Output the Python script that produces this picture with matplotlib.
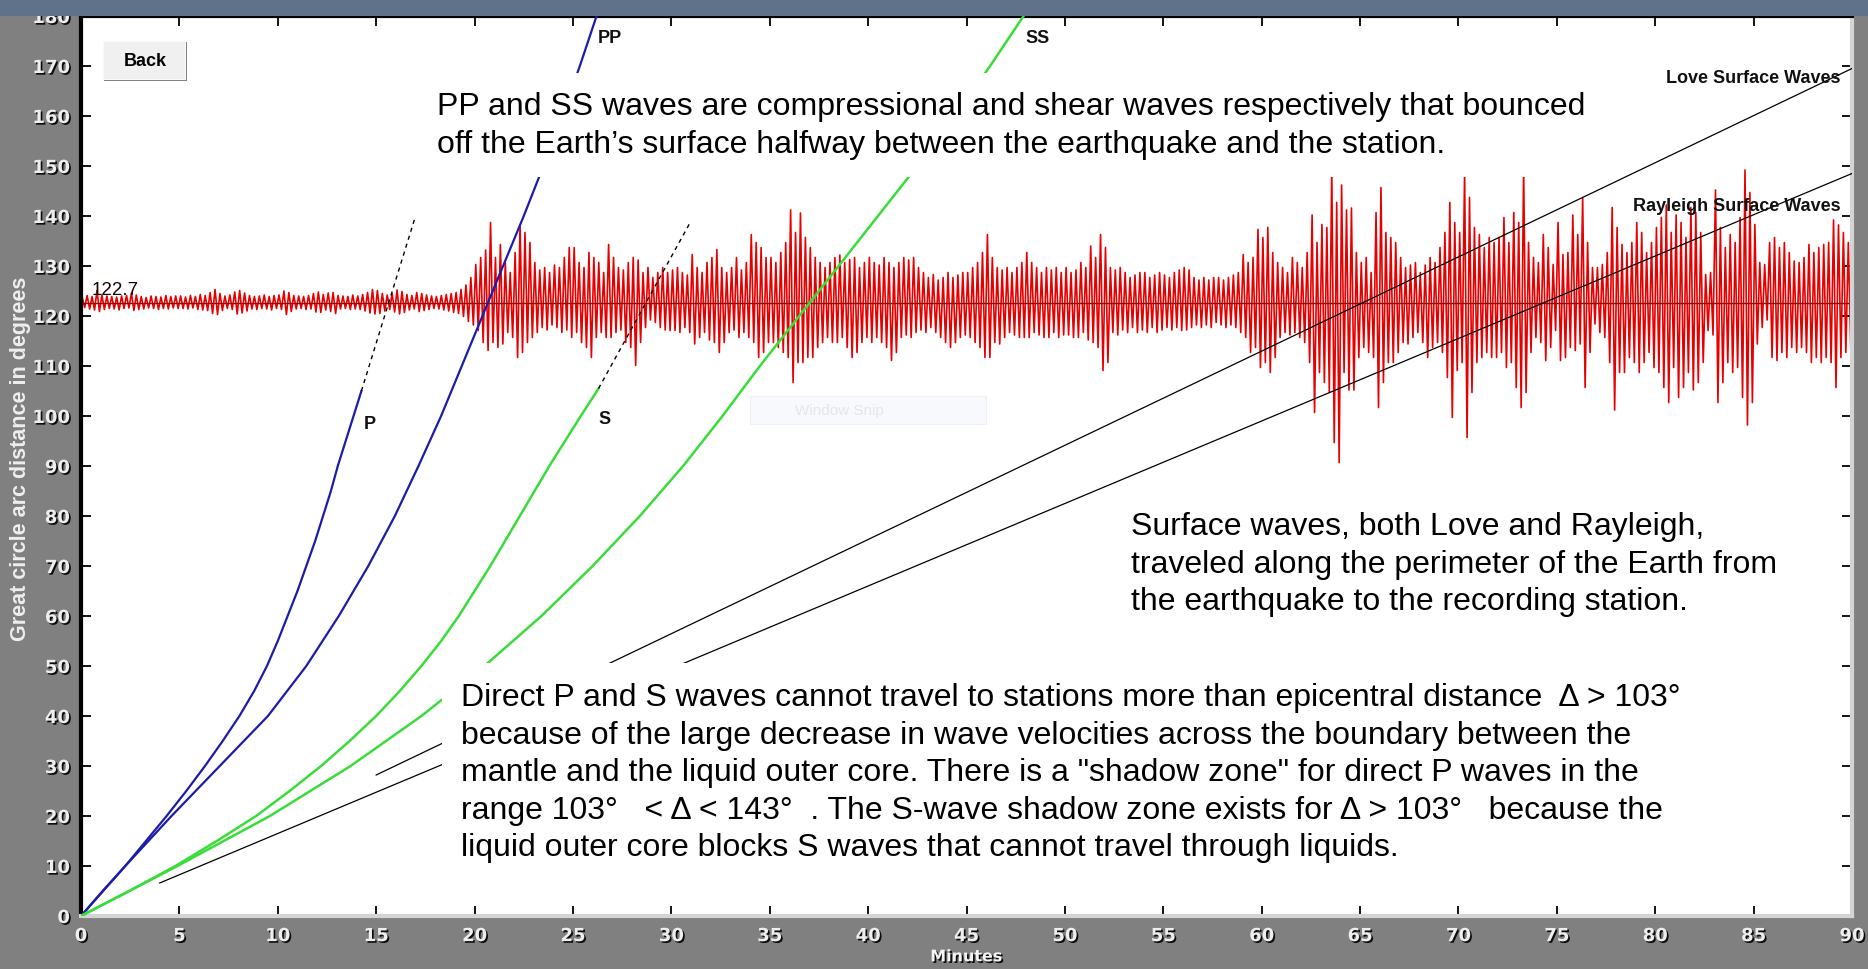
import numpy as np
import matplotlib
matplotlib.use("Agg")
import matplotlib.pyplot as plt
import matplotlib.patheffects as pe
from matplotlib.patches import Rectangle

# ---------------- data ----------------
station_deg = 122.7

p_deg = [0, 5, 10, 15, 20, 25, 30, 35, 40, 45, 50, 55, 60, 65, 70, 75, 80, 85, 90, 95, 100, 105]
p_min = [0, 1.1, 2.25, 3.3, 4.35, 5.35, 6.3, 7.2, 8.05, 8.8, 9.45, 10.0, 10.5, 11.0, 11.45,
         11.9, 12.3, 12.7, 13.05, 13.45, 13.85, 14.25]
p_ext_min = [14.25, 17.0]
p_ext_deg = [105, 140]

pp_deg = [0, 10, 20, 30, 40, 50, 60, 70, 80, 90, 100, 110, 120, 130, 140, 150, 160, 170, 180]
pp_min = [0, 2.25, 4.6, 7.05, 9.5, 11.45, 13.1, 14.6, 15.95, 17.15, 18.3, 19.35, 20.4,
          21.45, 22.5, 23.5, 24.45, 25.35, 26.2]

s_deg = [0, 5, 10, 15, 20, 25, 30, 35, 40, 45, 50, 55, 60, 65, 70, 75, 80, 85, 90, 95,
         100, 105.5]
s_min = [0, 2.45, 4.8, 6.9, 8.9, 10.6, 12.2, 13.65, 15.0, 16.2, 17.3, 18.3, 19.2, 20.0,
         20.8, 21.55, 22.3, 23.05, 23.8, 24.6, 25.4, 26.3]
s_ext_min = [26.3, 31.0]
s_ext_deg = [105.5, 139]

ss_deg = [0, 10, 20, 30, 40, 50, 60, 70, 80, 90, 100, 110, 120, 130, 140, 150, 160, 170, 180]
ss_min = [0, 4.9, 9.6, 13.7, 17.3, 20.5, 23.4, 26.0, 28.4, 30.6, 32.6, 34.5, 36.5, 38.5,
          40.5, 42.5, 44.4, 46.2, 47.9]

love_min = [15.0, 90.0]
love_deg = [28.2, 169.5]
rayleigh_min = [4.0, 90.0]
rayleigh_deg = [6.6, 148.5]

# seismogram: upward / downward peak excursions (degrees) per 0.25-minute bin
seis_bin = 0.25
seis_hi = [
    1.0, 1.4, 1.2, 2.4, 1.5, 1.3, 1.2, 1.1, 1.3, 1.4, 1.9, 1.5, 1.2, 1.0, 1.3, 1.2, 1.1, 1.4, 1.2, 1.3,
    1.3, 1.1, 1.4, 1.2, 1.6, 1.4, 2.0, 2.6, 1.8, 1.3, 1.5, 2.1, 2.4, 1.9, 1.4, 1.2, 1.3, 1.5, 1.2, 1.4,
    1.5, 2.3, 2.0, 1.4, 1.3, 1.2, 1.4, 1.8, 2.1, 1.6, 1.9, 2.0, 1.4, 1.3, 1.2, 1.5, 1.3, 1.6, 2.0, 2.6,
    2.4, 1.8, 1.5, 1.8, 2.5, 2.2, 1.6, 1.4, 2.0, 1.8, 1.5, 1.3, 1.2, 1.4, 1.6, 1.8, 2.0, 2.6, 3.5, 5.0,
    7.6, 9.0, 10.5, 16.0, 9.0, 11.6, 8.0, 6.0, 10.0, 15.5, 14.0, 12.0, 8.0, 6.5, 7.0, 6.0, 7.5, 7.0, 9.0, 11.0,
    11.0, 8.0, 7.0, 10.0, 9.0, 8.0, 6.0, 11.6, 9.0, 7.0, 6.5, 8.0, 9.0, 8.5, 6.0, 7.0, 5.0, 6.0, 7.0, 6.0,
    6.5, 7.0, 6.0, 5.5, 9.6, 7.0, 6.0, 8.0, 9.0, 10.6, 7.0, 6.0, 7.0, 9.0, 6.5, 8.0, 13.6, 12.0, 11.0, 9.0,
    9.0, 8.0, 10.0, 12.0, 18.5, 14.0, 17.9, 13.0, 11.0, 9.0, 8.0, 7.0, 8.0, 9.0, 9.5, 8.0, 8.6, 9.0, 7.0, 8.0,
    9.0, 8.0, 7.5, 9.0, 8.0, 7.0, 8.0, 9.0, 8.5, 9.0, 7.0, 6.0, 5.0, 5.6, 4.5, 5.0, 6.0, 5.0, 5.5, 6.0,
    6.0, 7.0, 8.0, 10.0, 13.6, 9.0, 7.0, 6.5, 7.0, 6.0, 7.0, 8.0, 10.0, 8.0, 7.0, 6.0, 7.0, 6.5, 7.0, 6.0,
    7.0, 6.0, 6.5, 8.0, 7.0, 11.3, 9.0, 13.6, 11.0, 7.0, 6.5, 7.0, 6.0, 5.0, 5.5, 6.0, 6.0, 5.0, 5.5, 6.0,
    5.5, 5.0, 6.0, 6.5, 7.0, 6.5, 5.0, 4.5, 5.0, 4.5, 5.0, 5.0, 4.5, 5.0, 5.5, 6.0, 9.6, 8.0, 9.0, 14.6,
    13.0, 15.0, 10.0, 8.0, 7.0, 6.0, 9.0, 8.0, 7.0, 10.0, 17.5, 12.0, 15.6, 15.0, 27.0, 20.0, 23.5, 18.5, 18.9, 10.0,
    8.0, 9.0, 6.0, 18.0, 23.0, 14.0, 13.0, 12.0, 9.0, 7.0, 7.5, 8.0, 6.0, 7.5, 9.0, 8.0, 11.0, 14.0, 20.0, 16.0,
    14.0, 26.0, 21.0, 15.0, 13.6, 11.0, 13.0, 12.0, 13.0, 17.0, 12.0, 18.0, 16.0, 27.0, 12.0, 9.0, 8.0, 13.6, 11.0, 7.6,
    16.0, 9.6, 10.0, 17.5, 13.6, 21.0, 12.0, 7.0, 7.0, 7.6, 10.0, 19.0, 15.0, 11.6, 10.0, 12.0, 16.0, 14.0, 10.0, 12.0,
    15.0, 17.0, 19.5, 14.0, 17.5, 16.0, 13.0, 19.0, 18.0, 14.0, 5.6, 6.0, 22.5, 15.0, 11.0, 13.6, 12.0, 17.0, 26.5, 22.0,
    15.6, 8.0, 7.6, 12.0, 13.0, 11.0, 12.0, 10.0, 8.3, 8.0, 9.0, 11.6, 10.0, 11.0, 11.6, 12.0, 16.5, 15.5, 14.0, 12.0,
]
seis_lo = [
    1.0, 1.3, 1.5, 1.8, 1.4, 1.2, 1.3, 1.5, 1.2, 1.1, 1.6, 1.4, 1.3, 1.1, 1.2, 1.4, 1.2, 1.3, 1.1, 1.2,
    1.2, 1.3, 1.1, 1.4, 1.5, 1.6, 2.2, 2.4, 1.6, 1.2, 1.4, 2.3, 2.1, 1.7, 1.3, 1.4, 1.2, 1.3, 1.5, 1.2,
    1.4, 2.4, 1.8, 1.3, 1.2, 1.4, 1.3, 1.9, 2.0, 1.5, 1.8, 2.2, 1.3, 1.2, 1.4, 1.3, 1.4, 1.7, 2.1, 2.3,
    2.2, 1.7, 1.4, 1.9, 2.3, 2.0, 1.5, 1.3, 1.8, 1.6, 1.4, 1.2, 1.3, 1.5, 1.7, 2.0, 2.2, 2.8, 3.8, 4.5,
    5.6, 8.0, 9.6, 8.0, 9.0, 8.3, 6.0, 7.0, 11.0, 10.0, 8.0, 7.0, 6.0, 5.0, 5.5, 4.5, 5.0, 6.0, 5.5, 7.0,
    6.0, 8.0, 9.0, 11.0, 7.0, 6.0, 7.0, 7.0, 6.0, 5.5, 8.0, 9.0, 12.6, 8.0, 5.0, 3.5, 4.0, 5.0, 5.5, 5.6,
    5.6, 6.0, 5.0, 6.0, 8.3, 7.0, 6.0, 7.5, 8.0, 10.0, 8.0, 6.0, 5.5, 7.0, 6.0, 7.0, 8.0, 11.0, 10.0, 8.0,
    8.0, 9.0, 10.0, 11.0, 16.0, 12.0, 12.0, 11.0, 11.0, 9.0, 8.0, 7.0, 8.0, 8.0, 7.0, 9.0, 11.0, 10.0, 8.0, 7.0,
    8.0, 7.0, 8.0, 9.0, 11.6, 10.0, 7.0, 6.5, 7.0, 6.0, 5.5, 6.0, 5.0, 6.0, 7.0, 8.0, 9.0, 8.0, 7.0, 6.5,
    7.0, 8.0, 9.0, 11.0, 11.0, 8.0, 8.3, 7.0, 6.0, 6.5, 7.0, 7.0, 7.0, 6.0, 6.5, 7.0, 7.0, 6.0, 7.0, 6.5,
    6.5, 7.0, 7.0, 6.0, 7.5, 8.0, 9.0, 13.6, 12.0, 6.0, 6.5, 5.5, 6.0, 5.0, 6.0, 5.5, 6.0, 5.0, 6.0, 5.5,
    5.0, 5.5, 5.0, 5.6, 5.5, 5.0, 4.5, 5.0, 4.5, 5.0, 4.0, 4.5, 5.0, 4.5, 5.0, 6.0, 7.0, 10.0, 9.0, 13.0,
    12.0, 14.0, 11.0, 7.0, 6.0, 6.5, 6.0, 7.0, 8.0, 12.0, 22.0, 14.0, 16.0, 18.0, 28.0, 32.0, 14.0, 17.5, 17.5, 11.0,
    9.0, 10.0, 11.0, 21.0, 16.0, 12.0, 12.0, 10.0, 8.0, 8.3, 7.0, 6.0, 8.0, 11.0, 9.0, 8.0, 10.0, 15.0, 23.0, 13.6,
    12.0, 27.0, 18.0, 12.0, 11.0, 10.0, 11.0, 11.0, 10.0, 13.0, 12.0, 17.0, 21.0, 18.0, 10.0, 7.0, 8.0, 11.6, 9.0, 5.6,
    11.6, 11.0, 9.0, 9.6, 8.3, 17.0, 10.0, 4.3, 6.0, 7.0, 12.0, 21.5, 14.0, 14.0, 11.0, 12.0, 14.0, 12.0, 10.0, 13.0,
    14.0, 17.0, 20.0, 13.0, 19.0, 17.0, 14.0, 17.5, 16.0, 12.0, 5.6, 6.5, 20.0, 16.0, 12.0, 14.0, 13.0, 19.0, 24.5, 20.0,
    8.3, 5.0, 3.5, 11.0, 11.6, 10.0, 11.0, 9.0, 10.0, 9.0, 10.0, 12.0, 11.0, 12.0, 11.0, 12.0, 17.0, 11.0, 10.0, 9.0,
]

x_ticks = list(range(0, 91, 5))
y_ticks = list(range(0, 181, 10))

# ---------------- figure ----------------
W, H = 1868, 970
fig = plt.figure(figsize=(W / 100, H / 100), dpi=100, facecolor="#808080")

def fx(px):
    return px / W

def fy(py):
    return 1 - py / H

# window title strip
fig.patches.append(Rectangle((0, fy(17)), 1, 17 / H, transform=fig.transFigure,
                             facecolor="#5f7289", edgecolor="none", zorder=0))

ax = fig.add_axes([fx(81), fy(917), (1852 - 81) / W, (917 - 17) / H])
ax.set_facecolor("white")
ax.set_xlim(0, 90)
ax.set_ylim(0, 180)

# seismogram trace
t = []
v = []
for i, (h, l) in enumerate(zip(seis_hi, seis_lo)):
    t0 = i * seis_bin
    t += [t0 + 0.25 * seis_bin, t0 + 0.75 * seis_bin]
    v += [station_deg + h, station_deg - l]
ax.plot(t, v, color="#e80000", lw=1.2, zorder=2)
ax.plot([0, 90], [station_deg, station_deg], color="#8a1010", lw=1.0, zorder=2.5)

# travel-time curves
ax.plot(p_min, p_deg, color="#1c1ca8", lw=1.6, zorder=3)
ax.plot(pp_min, pp_deg, color="#1c1ca8", lw=1.6, zorder=3)
ax.plot(s_min, s_deg, color="#3adc3a", lw=1.8, zorder=3)
ax.plot(ss_min, ss_deg, color="#3adc3a", lw=1.8, zorder=3)
ax.plot(p_ext_min, p_ext_deg, color="black", lw=1.0, ls=(0, (3, 3)), zorder=3)
ax.plot(s_ext_min, s_ext_deg, color="black", lw=1.0, ls=(0, (3, 3)), zorder=3)
ax.plot(love_min, love_deg, color="black", lw=0.9, zorder=3)
ax.plot(rayleigh_min, rayleigh_deg, color="black", lw=0.9, zorder=3)

lab_font = dict(family=["Liberation Sans", "DejaVu Sans"], fontweight="bold",
                fontsize=13, color="#111111", zorder=4)
ax.text(14.7, 98.4, "P", ha="center", va="center", **lab_font)
ax.text(26.6, 99.4, "S", ha="center", va="center", **lab_font)
ax.text(26.9, 175.6, "PP", ha="center", va="center", **lab_font)
ax.text(48.6, 175.6, "SS", ha="center", va="center", **lab_font)
ax.text(89.4, 167.6, "Love Surface Waves", ha="right", va="center", **lab_font)
ax.text(89.4, 142.0, "Rayleigh Surface Waves", ha="right", va="center", **lab_font)
ax.text(0.55, 125.3, "122.7", ha="left", va="center",
        family=["Liberation Sans", "DejaVu Sans"], fontsize=13.5, color="#1a0000", zorder=4)

# axes frame / ticks
for side in ("left", "top"):
    ax.spines[side].set_color("black")
    ax.spines[side].set_linewidth(3)
for side in ("right", "bottom"):
    ax.spines[side].set_color("#d4d4d4")
    ax.spines[side].set_linewidth(3)
ax.set_xticks(x_ticks)
ax.set_yticks(y_ticks)
ax.tick_params(direction="in", length=7, width=1.3, color="black",
               top=True, right=True, labeltop=False, labelright=False, pad=8)
tick_fx = [pe.withSimplePatchShadow(offset=(1.2, -1.2), shadow_rgbFace="black", alpha=0.9)]
for lbl in ax.get_xticklabels() + ax.get_yticklabels():
    lbl.set_family(["Liberation Sans Narrow", "DejaVu Sans"])
    lbl.set_fontweight("bold")
    lbl.set_fontsize(13)
    lbl.set_color("#eeeeee")
    lbl.set_path_effects(tick_fx)

ax.set_xlabel("Minutes", family=["Liberation Sans Narrow", "DejaVu Sans"],
              fontweight="bold", fontsize=11.5, color="#f4f4f4", labelpad=3,
              path_effects=tick_fx)
fig.text(fx(21), fy(459), "Great circle arc distance in degrees", rotation=90,
         ha="center", va="center", family=["Liberation Sans", "DejaVu Sans"],
         fontweight="bold", fontsize=15.5, color="#eeeeee")

# annotation boxes
body_font = dict(family=["Liberation Sans", "Arial", "DejaVu Sans"], fontsize=23,
                 color="black", linespacing=1.33, zorder=5)
fig.text(fx(437), fy(92),
         "PP and SS waves are compressional and shear waves respectively that bounced\n"
         "off the Earth\u2019s surface halfway between the earthquake and the station.",
         ha="left", va="top",
         bbox=dict(facecolor="white", edgecolor="none", pad=13), **body_font)
fig.text(fx(1131), fy(512),
         "Surface waves, both Love and Rayleigh,\n"
         "traveled along the perimeter of the Earth from\n"
         "the earthquake to the recording station.",
         ha="left", va="top",
         bbox=dict(facecolor="white", edgecolor="none", pad=4), **body_font)
fig.text(fx(461), fy(683),
         "Direct P and S waves cannot travel to stations more than epicentral distance  \u0394 > 103\u00b0\n"
         "because of the large decrease in wave velocities across the boundary between the\n"
         "mantle and the liquid outer core. There is a \"shadow zone\" for direct P waves in the\n"
         "range 103\u00b0   < \u0394 < 143\u00b0  . The S-wave shadow zone exists for \u0394 > 103\u00b0   because the\n"
         "liquid outer core blocks S waves that cannot travel through liquids.",
         ha="left", va="top",
         bbox=dict(facecolor="white", edgecolor="none", pad=14), **body_font)

# "Back" button
fig.patches.append(Rectangle((fx(104), fy(82)), 83 / W, 39 / H, transform=fig.transFigure,
                             facecolor="#7a7a7a", edgecolor="none", zorder=6))
fig.patches.append(Rectangle((fx(103), fy(80)), 82 / W, 38 / H, transform=fig.transFigure,
                             facecolor="#f0f0f0", edgecolor="#fafafa", lw=0.8, zorder=7))
fig.text(fx(145), fy(61), "Back", ha="center", va="center",
         family=["Liberation Sans", "DejaVu Sans"], fontweight="bold", fontsize=13,
         color="black", zorder=8)

# faint screen-capture ghost
fig.patches.append(Rectangle((fx(750), fy(425)), 236 / W, 28 / H, transform=fig.transFigure,
                             facecolor="#f8f9fc", edgecolor="#eef0f5", lw=0.8, zorder=1))
fig.text(fx(795), fy(411), "Window Snip", ha="left", va="center",
         family=["Liberation Sans", "DejaVu Sans"], fontsize=11, color="#e4e6ec", zorder=1)

fig.savefig("out.png", dpi=100, facecolor=fig.get_facecolor())
